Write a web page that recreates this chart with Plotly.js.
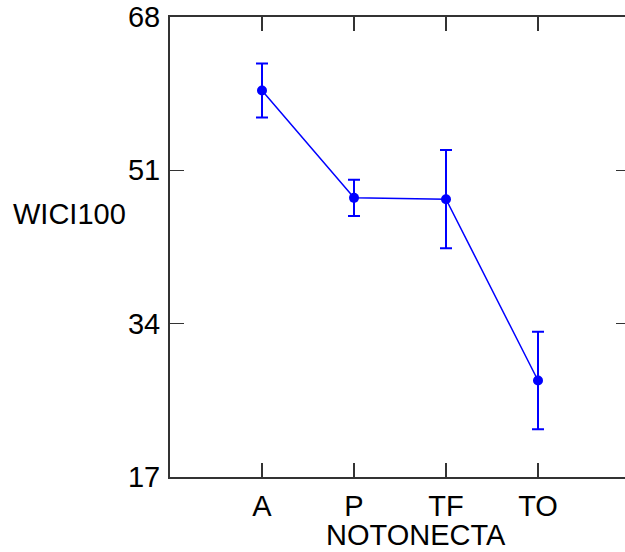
<!DOCTYPE html>
<html>
<head>
<meta charset="utf-8">
<script src="https://cdn.plot.ly/plotly-3.0.1.min.js"></script>
<style>
html,body{margin:0;padding:0;overflow:hidden;background:#fff;}
#chart{width:640px;height:552px;}
</style>
</head>
<body>
<div id="chart"></div>
<script>
const categories = ['A', 'P', 'TF', 'TO'];
const means = [59.85, 47.95, 47.8, 27.7];
const errors = [3.0, 2.0, 5.45, 5.4];
const yTicks = [17, 34, 51, 68];
const xTitle = 'NOTONECTA';
const yTitle = 'WICI100';

const fontFam = '"Liberation Sans", Arial, sans-serif';
const fs = 29;

const trace = {
  x: categories,
  y: means,
  type: 'scatter',
  mode: 'lines+markers',
  line: {color: '#0000ff', width: 1.5},
  marker: {color: '#0000ff', size: 10},
  error_y: {type: 'data', array: errors, visible: true, color: '#0000ff', thickness: 2, width: 6},
  hoverinfo: 'x+y'
};

const layout = {
  width: 640,
  height: 552,
  margin: {l: 170, r: 10, t: 17, b: 75},
  paper_bgcolor: '#fff',
  plot_bgcolor: '#fff',
  showlegend: false,
  font: {family: fontFam, size: fs, color: '#000'},
  xaxis: {
    type: 'category',
    categoryorder: 'array',
    categoryarray: categories,
    range: [-1, 4],
    showgrid: false,
    zeroline: false,
    showline: true,
    linecolor: '#333',
    linewidth: 2,
    mirror: 'ticks',
    ticks: 'inside',
    ticklen: 14,
    tickwidth: 1.5,
    tickcolor: '#333',
    tickfont: {family: fontFam, size: fs, color: '#000'},
    ticklabelstandoff: 2
  },
  yaxis: {
    range: [17, 68],
    tickmode: 'array',
    tickvals: yTicks,
    ticktext: yTicks.map(String),
    showgrid: false,
    zeroline: false,
    showline: true,
    linecolor: '#333',
    linewidth: 2,
    mirror: 'ticks',
    ticks: 'inside',
    ticklen: 14,
    tickwidth: 1.5,
    tickcolor: '#333',
    tickfont: {family: fontFam, size: fs, color: '#000'},
    ticklabelstandoff: 2
  },
  annotations: [
    {text: xTitle, xref: 'paper', yref: 'paper', x: 0.535, y: 0, yshift: -58, xanchor: 'center', yanchor: 'middle', showarrow: false, font: {family: fontFam, size: fs, color: '#000'}},
    {text: yTitle, xref: 'paper', yref: 'y', x: 0, xshift: -101, y: 46.2, xanchor: 'center', yanchor: 'middle', showarrow: false, font: {family: fontFam, size: fs, color: '#000'}}
  ]
};

Plotly.newPlot('chart', [trace], layout, {displayModeBar: false, staticPlot: true});
</script>
</body>
</html>
